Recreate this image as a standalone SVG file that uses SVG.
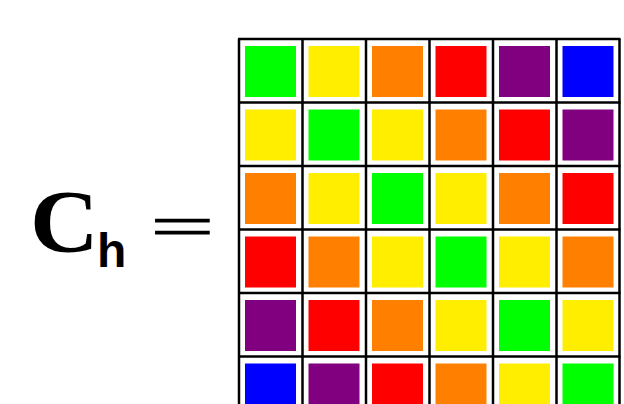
<svg xmlns="http://www.w3.org/2000/svg" width="624" height="404" viewBox="0 0 624 404">
<style>
.g{fill:#00ff00}.y{fill:#ffee00}.o{fill:#ff8000}.r{fill:#ff0000}.p{fill:#800080}.b{fill:#0000ff}
.grid line{stroke:#000;stroke-width:2.5}
</style>
<rect width="624" height="404" fill="#fff"/>
<g id="label">
<text transform="translate(30,251) scale(1.08,1)" font-family="Liberation Serif, serif" font-weight="bold" font-size="88">C</text>
<text x="97" y="267" font-family="Liberation Sans, sans-serif" font-weight="bold" font-size="48">h</text>
<text transform="translate(150,247) scale(1.85,1)" font-family="Liberation Serif, serif" font-size="62" stroke="#000" stroke-width="0.7">=</text>
</g>
<g id="cells">
<rect class="g" x="245" y="46" width="51" height="51"/><rect class="y" x="308.5" y="46" width="51" height="51"/><rect class="o" x="372" y="46" width="51" height="51"/><rect class="r" x="435.5" y="46" width="51" height="51"/><rect class="p" x="499" y="46" width="51" height="51"/><rect class="b" x="562.5" y="46" width="51" height="51"/>
<rect class="y" x="245" y="109.5" width="51" height="51"/><rect class="g" x="308.5" y="109.5" width="51" height="51"/><rect class="y" x="372" y="109.5" width="51" height="51"/><rect class="o" x="435.5" y="109.5" width="51" height="51"/><rect class="r" x="499" y="109.5" width="51" height="51"/><rect class="p" x="562.5" y="109.5" width="51" height="51"/>
<rect class="o" x="245" y="173" width="51" height="51"/><rect class="y" x="308.5" y="173" width="51" height="51"/><rect class="g" x="372" y="173" width="51" height="51"/><rect class="y" x="435.5" y="173" width="51" height="51"/><rect class="o" x="499" y="173" width="51" height="51"/><rect class="r" x="562.5" y="173" width="51" height="51"/>
<rect class="r" x="245" y="236.5" width="51" height="51"/><rect class="o" x="308.5" y="236.5" width="51" height="51"/><rect class="y" x="372" y="236.5" width="51" height="51"/><rect class="g" x="435.5" y="236.5" width="51" height="51"/><rect class="y" x="499" y="236.5" width="51" height="51"/><rect class="o" x="562.5" y="236.5" width="51" height="51"/>
<rect class="p" x="245" y="300" width="51" height="51"/><rect class="r" x="308.5" y="300" width="51" height="51"/><rect class="o" x="372" y="300" width="51" height="51"/><rect class="y" x="435.5" y="300" width="51" height="51"/><rect class="g" x="499" y="300" width="51" height="51"/><rect class="y" x="562.5" y="300" width="51" height="51"/>
<rect class="b" x="245" y="363.5" width="51" height="51"/><rect class="p" x="308.5" y="363.5" width="51" height="51"/><rect class="r" x="372" y="363.5" width="51" height="51"/><rect class="o" x="435.5" y="363.5" width="51" height="51"/><rect class="y" x="499" y="363.5" width="51" height="51"/><rect class="g" x="562.5" y="363.5" width="51" height="51"/>
</g>
<g id="grid" class="grid">
<line x1="239" y1="39" x2="239" y2="404"/><line x1="302.5" y1="39" x2="302.5" y2="404"/><line x1="366" y1="39" x2="366" y2="404"/><line x1="429.5" y1="39" x2="429.5" y2="404"/><line x1="493" y1="39" x2="493" y2="404"/><line x1="556.5" y1="39" x2="556.5" y2="404"/><line x1="619.5" y1="39" x2="619.5" y2="404"/>
<line x1="238" y1="39" x2="620.5" y2="39"/><line x1="238" y1="102.5" x2="620.5" y2="102.5"/><line x1="238" y1="166" x2="620.5" y2="166"/><line x1="238" y1="229.5" x2="620.5" y2="229.5"/><line x1="238" y1="293" x2="620.5" y2="293"/><line x1="238" y1="356.5" x2="620.5" y2="356.5"/>
</g>
</svg>
